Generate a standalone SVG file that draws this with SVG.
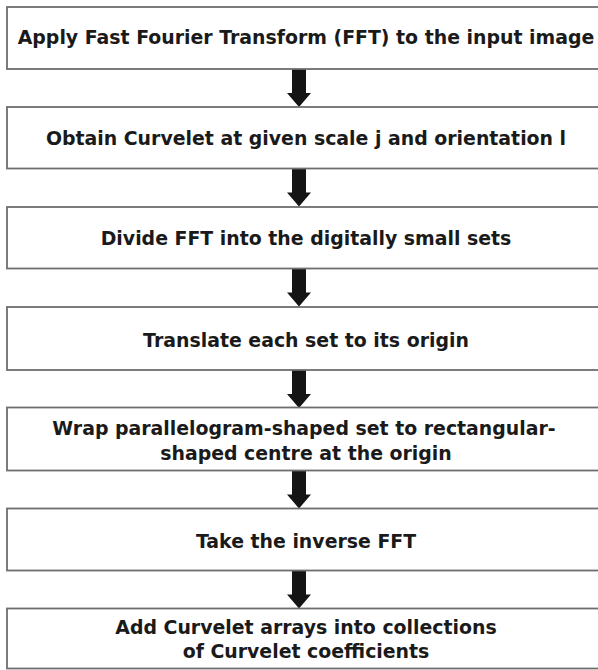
<svg xmlns="http://www.w3.org/2000/svg" width="598" height="670" viewBox="0 0 598 670">
  <style>
    .box { fill: #ffffff; stroke: #6e6e6e; stroke-width: 1.8; }
    .lbl { font-family: "DejaVu Sans", Verdana, sans-serif; font-weight: bold; font-size: 18.9px; fill: #1a1a1a; text-anchor: middle; }
    .arr { fill: #141414; }
  </style>
  <defs>
    <path id="arrow" d="M292,0 L306,0 L306,24 L311,24 L299,38 L287,24 L292,24 Z"/>
  </defs>
  <rect width="598" height="670" fill="#ffffff"/>
  <g id="connectors">
    <use href="#arrow" class="arr" transform="translate(0,69)"/>
    <use href="#arrow" class="arr" transform="translate(0,168.5)"/>
    <use href="#arrow" class="arr" transform="translate(0,268.5)"/>
    <use href="#arrow" class="arr" transform="translate(0,370)"/>
    <use href="#arrow" class="arr" transform="translate(0,470.5)"/>
    <use href="#arrow" class="arr" transform="translate(0,570.5)"/>
  </g>
  <g id="node1">
    <rect class="box" x="7" y="7" width="600" height="62"/>
    <text class="lbl" x="306" y="44">Apply Fast Fourier Transform (FFT) to the input image</text>
  </g>
  <g id="node2">
    <rect class="box" x="7" y="107" width="600" height="61.5"/>
    <text class="lbl" x="306" y="145">Obtain Curvelet at given scale j and orientation l</text>
  </g>
  <g id="node3">
    <rect class="box" x="7" y="207" width="600" height="61.5"/>
    <text class="lbl" x="306" y="245">Divide FFT into the digitally small sets</text>
  </g>
  <g id="node4">
    <rect class="box" x="7" y="307" width="600" height="63"/>
    <text class="lbl" x="306" y="347">Translate each set to its origin</text>
  </g>
  <g id="node5">
    <rect class="box" x="7" y="407.5" width="600" height="63"/>
    <text class="lbl" x="304" y="435">Wrap parallelogram-shaped set to rectangular-</text>
    <text class="lbl" x="306" y="460">shaped centre at the origin</text>
  </g>
  <g id="node6">
    <rect class="box" x="7" y="508.5" width="600" height="62"/>
    <text class="lbl" x="306" y="547.5">Take the inverse FFT</text>
  </g>
  <g id="node7">
    <rect class="box" x="7" y="608.5" width="600" height="60"/>
    <text class="lbl" x="306" y="634">Add Curvelet arrays into collections</text>
    <text class="lbl" x="306" y="658">of Curvelet coefficients</text>
  </g>
</svg>
